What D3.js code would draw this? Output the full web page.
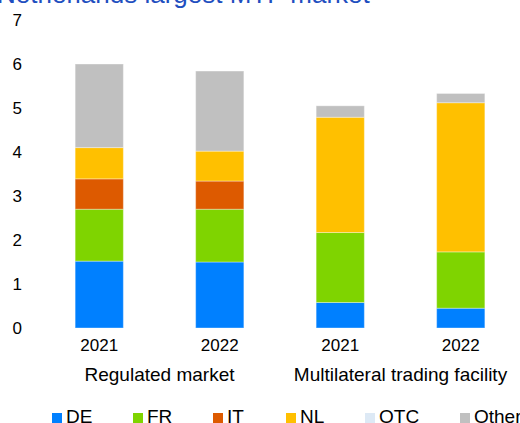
<!DOCTYPE html>
<html>
<head>
<meta charset="utf-8">
<script src="https://cdn.jsdelivr.net/npm/d3@7"></script>
<style>
  body { margin: 0; background: #fff; }
  svg { display: block; font-family: "Liberation Sans", Arial, sans-serif; }
</style>
</head>
<body>
<div id="chart"></div>
<script>
// data
const bars = ["RM2021", "RM2022", "MTF2021", "MTF2022"];
const years = ["2021", "2022", "2021", "2022"];
const groups = ["Regulated market", "Multilateral trading facility"];
const series = ["DE", "FR", "IT", "NL", "OTC", "Other"];
const DE = [1.52, 1.50, 0.58, 0.45];
const FR = [1.18, 1.20, 1.59, 1.28];
const IT = [0.69, 0.64, 0.00, 0.00];
const NL = [0.71, 0.68, 2.62, 3.39];
const OTC = [0, 0, 0, 0];
const Other = [1.90, 1.82, 0.26, 0.21];
const yTicks = [0, 1, 2, 3, 4, 5, 6, 7];
const colors = ["#0080ff", "#7fd400", "#dd5a00", "#ffc000", "#dde9f5", "#c0c0c0"];

const width = 520, height = 423;
const svg = d3.select("#chart").append("svg")
    .attr("width", width)
    .attr("height", height);

// title (cut off at top, like the source)
svg.append("text")
    .attr("x", -3).attr("y", 3)
    .attr("fill", "#1f4fbf")
    .style("font-size", "26px")
    .text("Netherlands largest MTF market");

// scales
const x = d3.scaleBand().domain(bars).range([39, 521]).paddingInner(0.6).paddingOuter(0.3);
const y = d3.scaleLinear().domain([0, 7]).range([328, 20]);

// stack
const table = bars.map((b, i) => ({
  key: b, DE: DE[i], FR: FR[i], IT: IT[i], NL: NL[i], OTC: OTC[i], Other: Other[i]
}));
const stacked = d3.stack().keys(series)(table);

svg.append("g").selectAll("g")
    .data(stacked).enter()
    .append("g")
    .attr("fill", (d, i) => colors[i])
    .selectAll("rect")
    .data(d => d).enter()
    .append("rect")
    .filter(d => d[1] - d[0] > 0)
    .attr("x", d => x(d.data.key))
    .attr("width", x.bandwidth())
    .attr("y", d => y(d[1]))
    .attr("height", d => y(d[0]) - y(d[1]))
    .attr("stroke", "#ffffff")
    .attr("stroke-opacity", 0.35)
    .attr("stroke-width", 1);

// y axis
const yAxis = svg.append("g")
    .attr("transform", "translate(22,0)")
    .call(d3.axisLeft(y).tickValues(yTicks).tickSize(0).tickPadding(0).tickFormat(d3.format("d")));
yAxis.select(".domain").remove();
yAxis.selectAll("text")
    .style("font-size", "17px")
    .style("font-family", "Liberation Sans, Arial, sans-serif")
    .attr("fill", "#000");

// x axis: years
const xAxis = svg.append("g")
    .attr("transform", "translate(0,334)")
    .call(d3.axisBottom(x).tickSize(0).tickPadding(0).tickFormat((d, i) => years[i]));
xAxis.select(".domain").remove();
xAxis.selectAll("text")
    .attr("dy", "1em")
    .style("font-size", "17px")
    .style("font-family", "Liberation Sans, Arial, sans-serif")
    .attr("fill", "#000");

// group labels
svg.selectAll(".group")
    .data(groups).enter()
    .append("text")
    .attr("class", "group")
    .attr("x", (d, i) => (x(bars[i * 2]) + x(bars[i * 2 + 1]) + x.bandwidth()) / 2)
    .attr("y", 381)
    .attr("text-anchor", "middle")
    .style("font-size", "19px")
    .attr("fill", "#000")
    .text(d => d);

// legend
const legendX = [52, 133, 213, 286, 365, 460];
const legend = svg.selectAll(".legend")
    .data(series).enter()
    .append("g")
    .attr("class", "legend")
    .attr("transform", (d, i) => "translate(" + legendX[i] + ",413)");
legend.append("rect")
    .attr("width", 10).attr("height", 10)
    .attr("fill", (d, i) => colors[i]);
legend.append("text")
    .attr("x", 14).attr("y", 10)
    .style("font-size", "19px")
    .attr("fill", "#000")
    .text(d => d);
</script>
</body>
</html>
